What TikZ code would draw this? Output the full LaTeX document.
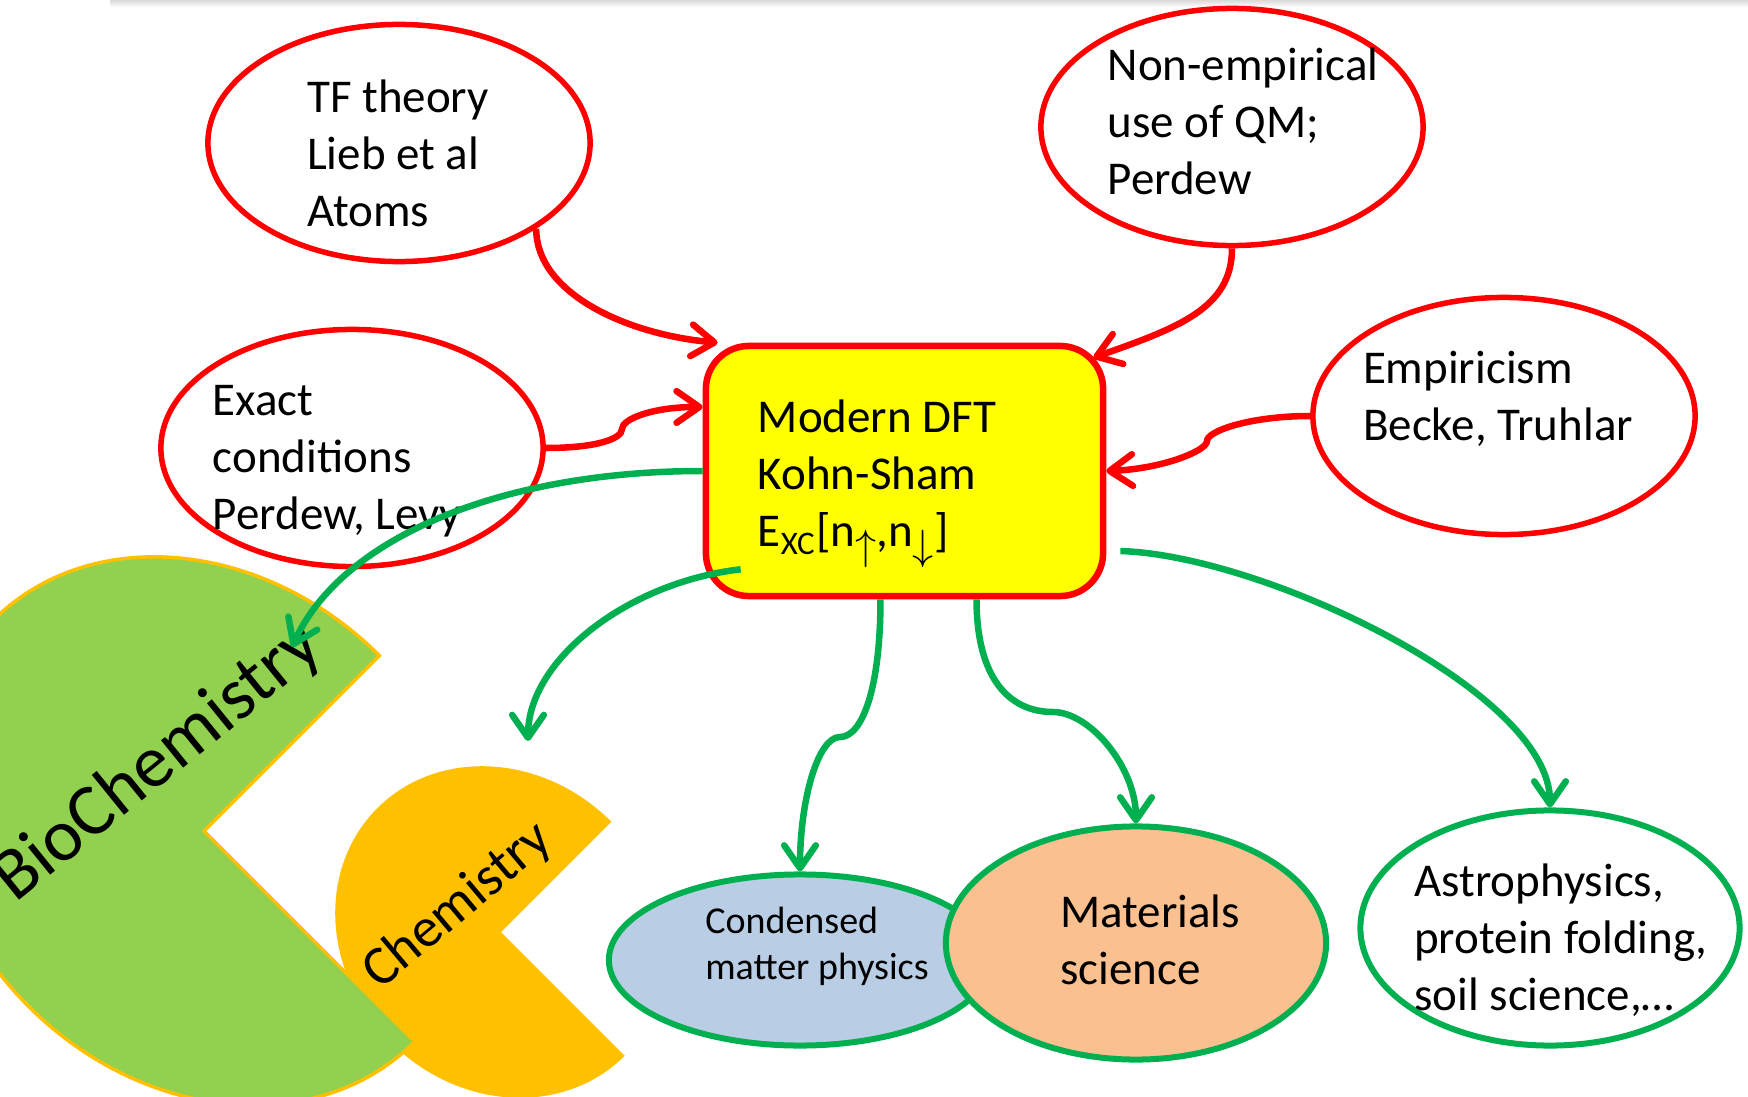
\documentclass[tikz,border=0pt]{standalone}
\usepackage{fontspec}
\setmainfont{Carlito}
\usetikzlibrary{shapes.geometric,arrows.meta}
\definecolor{dftred}{RGB}{255,0,0}
\definecolor{dftyellow}{RGB}{255,255,0}
\definecolor{appgreen}{RGB}{0,176,80}
\definecolor{biogreen}{RGB}{146,208,80}
\definecolor{chemorange}{RGB}{255,192,0}
\definecolor{cmpblue}{RGB}{185,205,229}
\definecolor{matpeach}{RGB}{250,192,144}
\newcommand{\spinarr}[1]{\raisebox{-3.6pt}{\fontsize{12}{13}\selectfont$#1$}}

\begin{document}
\begin{tikzpicture}[x=0.01cm,y=-0.01cm,every node/.style={font=\fontsize{13.37}{16.2}\selectfont},
    bub/.style={ellipse,inner sep=0pt,line width=0.055cm,minimum width=3.82cm,minimum height=2.37cm},
    redbub/.style={bub,draw=dftred,fill=white},
    greenbub/.style={bub,draw=appgreen,line width=0.06cm},
    dftbox/.style={rectangle,rounded corners=0.43cm,draw=dftred,fill=dftyellow,line width=0.065cm,minimum width=3.97cm,minimum height=2.50cm},
    txt/.style={align=left,inner sep=0pt},
    redarr/.style={draw=dftred,line width=0.065cm,-{Straight Barb[length=6.5pt,width=9pt,round]}},
    greenarr/.style={draw=appgreen,line width=0.065cm,-{Straight Barb[length=6.5pt,width=9pt,round]}}]
        \clip (0,0) rectangle (1748,1097);
        \fill[white] (0,0) rectangle (1748,1097);
        \shade[top color=black!15,bottom color=white] (110,0) rectangle (1748,7);
        \begin{scope}[shift={(501,932)},rotate=-45]
            \fill[chemorange] (0,0) coordinate (chem) -- (175,0) arc[start angle=0,end angle=270,x radius=175,y radius=156] -- cycle;
        \end{scope}
        \begin{scope}[shift={(204,831)},rotate=-45]
            \filldraw[fill=biogreen,draw=chemorange,line width=0.035cm] (0,0) coordinate (bio) -- (298,0) arc[start angle=0,end angle=270,x radius=298,y radius=248] -- cycle;
        \end{scope}
        \node[rotate=39,font=\fontsize{21}{24}\selectfont] (bio-txt) at (158,763) {BioChemistry};
        \node[rotate=40,font=\fontsize{15.8}{18}\selectfont] (chem-txt) at (458,906) {Chemistry};
        \node[redbub] (tf) at (399,143) {};
        \node[redbub] (nonemp) at (1232,127) {};
        \node[redbub] (exact) at (352,448) {};
        \node[redbub] (emp) at (1504,416) {};
        \node[greenbub,fill=cmpblue,minimum height=1.71cm] (cmp) at (800,960) {};
        \node[greenbub,fill=matpeach,minimum width=3.80cm,minimum height=2.33cm] (mat) at (1136,943) {};
        \node[greenbub,fill=white,minimum width=3.79cm,minimum height=2.35cm] (astro) at (1550,928) {};
        \node[dftbox] (dft) at (904.5,471) {};
        \node[txt] (tf-txt) at (398,153) {TF theory\\Lieb et al\\Atoms};
        \node[txt] (nonemp-txt) at (1243,121) {Non-empirical\\use of QM;\\Perdew};
        \node[txt] (exact-txt) at (337,461) {Exact\\conditions\\Perdew, Levy};
        \node[txt] (emp-txt) at (1498,399) {Empiricism\\Becke, Truhlar};
        \node[txt] (dft-txt) at (877,484) {Modern DFT\\Kohn-Sham\\E\textsubscript{XC}[n\spinarr{\uparrow},n\spinarr{\downarrow}]};
        \node[txt,font=\fontsize{10.81}{13.09}\selectfont] (cmp-txt) at (817,946) {Condensed\\matter physics};
        \node[txt] (mat-txt) at (1150,940) {Materials\\science};
        \node[txt] (astro-txt) at (1561,940) {Astrophysics,\\protein folding,\\soil science,\dots};
        \coordinate (ex-bend) at (622,429);
        \coordinate (emp-bend) at (1207,441);
        \coordinate (cmp-bend) at (840,737);
        \coordinate (mat-bend) at (1053,712);
        \coordinate (bio-in) at (292,647);
        \coordinate (chem-in) at (528,741);
        \draw[redarr] (tf.-32) .. controls +(0,65) and +(-90,-8) .. ([xshift=.15cm]dft.north west);
        \draw[redarr] (nonemp.south) .. controls +(0,60) and +(85,-30) .. ([xshift=-.13cm,yshift=-.15cm]dft.north east);
        \draw[redarr] (exact.east) .. controls +(50,0) and +(0,10) .. (ex-bend) .. controls +(0,-10) and +(-50,0) .. ([yshift=.64cm]dft.west);
        \draw[redarr] (emp.west) .. controls +(-60,0) and +(0,-10) .. (emp-bend) .. controls +(0,10) and +(55,-2) .. (dft.east);
        \draw[greenarr] (dft.west) .. controls +(-200,0) and +(50,-110) .. (bio-in);
        \draw[greenarr] ([shift={(0.38cm,0.30cm)}]dft.south west) .. controls +(-113,13) and +(0,-81) .. (chem-in);
        \draw[greenarr] ([xshift=-.24cm]dft.south) .. controls +(0,90) and +(22,0) .. (cmp-bend) .. controls +(-22,0) and +(0,-72) .. (cmp.north);
        \draw[greenarr] ([xshift=.72cm]dft.south) .. controls +(0,80) and +(-43,0) .. (mat-bend) .. controls +(37,0) and +(0,-56) .. (mat.north);
        \draw[greenarr] ([xshift=.14cm,yshift=-.8cm]dft.east) .. controls +(142,4) and +(0,-116) .. (astro.north);
    \end{tikzpicture}
\end{document}
